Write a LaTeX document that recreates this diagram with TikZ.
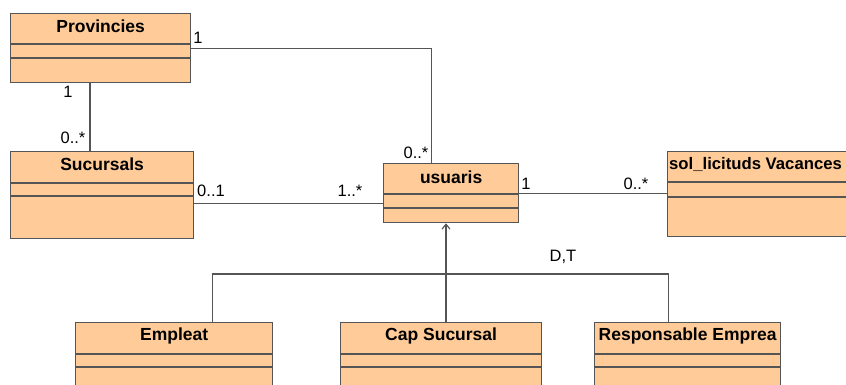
\documentclass[tikz,border=0pt]{standalone}
\usepackage{fontspec}
\setmainfont{Liberation Sans}
\usetikzlibrary{
    positioning,
    arrows.meta,
    calc
}
\definecolor{classfill}{HTML}{FFCC99}
\definecolor{linegray}{HTML}{555555}

\begin{document}
\begin{tikzpicture}[x=1pt, y=-1pt,
    cls/.style={draw=linegray, fill=classfill, line width=1.3pt, rectangle, inner sep=0pt, anchor=north west},
    clsname/.style={font=\bfseries\fontsize{17.5}{19}\selectfont, inner sep=0pt},
    assoc/.style={draw=linegray, line width=1.1pt},
    mult/.style={font=\fontsize{16.5}{18}\selectfont, inner sep=0pt}
]
    \useasboundingbox (0,0) rectangle (846,385);
    \clip (0,0) rectangle (846,385);

    % Classes
    \node[cls, minimum width=180pt, minimum height=69pt] (prov) at (10,13) {};
    \node[cls, minimum width=183pt, minimum height=87pt] (suc) at (10,151) {};
    \node[cls, minimum width=135pt, minimum height=59pt] (usu) at (383,163) {};
    \node[cls, minimum width=190pt, minimum height=85pt] (sol) at (667,151) {};
    \node[cls, minimum width=197pt, minimum height=90pt] (emp) at (75,322) {};
    \node[cls, minimum width=201pt, minimum height=90pt] (cap) at (340,322) {};
    \node[cls, minimum width=186pt, minimum height=90pt] (resp) at (594,322) {};

    % Compartments
    \draw[assoc] ([yshift=-31pt]prov.north west) -- ([yshift=-31pt]prov.north east);
    \draw[assoc] ([yshift=-45pt]prov.north west) -- ([yshift=-45pt]prov.north east);
    \draw[assoc] ([yshift=-32pt]suc.north west) -- ([yshift=-32pt]suc.north east);
    \draw[assoc] ([yshift=-45pt]suc.north west) -- ([yshift=-45pt]suc.north east);
    \draw[assoc] ([yshift=-31pt]usu.north west) -- ([yshift=-31pt]usu.north east);
    \draw[assoc] ([yshift=-45pt]usu.north west) -- ([yshift=-45pt]usu.north east);
    \draw[assoc] ([yshift=-31pt]sol.north west) -- ([yshift=-31pt]sol.north east);
    \draw[assoc] ([yshift=-46pt]sol.north west) -- ([yshift=-46pt]sol.north east);
    \foreach \c in {emp, cap, resp} {
        \draw[assoc] ([yshift=-32pt]\c.north west) -- ([yshift=-32pt]\c.north east);
        \draw[assoc] ([yshift=-45pt]\c.north west) -- ([yshift=-45pt]\c.north east);
    }

    % Class names
    \node[clsname] (provname) at ([yshift=-13pt]prov.north) {Provincies};
    \node[clsname] (sucname) at ([yshift=-13pt]suc.north) {Sucursals};
    \node[clsname] (usuname) at ([yshift=-14pt]usu.north) {usuaris};
    \node[clsname, anchor=west, font=\bfseries\fontsize{16.7}{19}\selectfont] (solname) at ([xshift=2pt, yshift=-13pt]sol.north west) {sol\_licituds Vacances};
    \node[clsname] (empname) at ([yshift=-14pt]emp.north) {Empleat};
    \node[clsname] (capname) at ([yshift=-14pt]cap.north) {Cap Sucursal};
    \node[clsname] (respname) at ([yshift=-14pt]resp.north) {Responsable Emprea};

    % Associations
    \draw[assoc] ([xshift=80pt]prov.south west) -- ([xshift=80pt]prov.south west |- suc.north);
    \draw[assoc] (prov.east) -| ([xshift=-20pt]usu.north);
    \draw[assoc] ([yshift=-10pt]usu.west) -- ([yshift=-10pt]usu.west -| suc.east);
    \draw[assoc] (usu.east) -- (usu.east -| sol.west);

    % Generalization
    \coordinate (gen) at (446,274);
    \draw[assoc, -{Straight Barb[length=5pt, width=8pt]}] (gen) -- (gen |- usu.south);
    \draw[assoc] ([xshift=38pt]emp.north) |- ([xshift=-19pt]resp.north |- gen) -- ([xshift=-19pt]resp.north);
    \draw[assoc] (gen) -- (gen |- cap.north);

    % Multiplicities
    \node[mult] (m1) at (198,38) {1};
    \node[mult] (m2) at (68,92) {1};
    \node[mult] (m3) at (73,138) {0..*};
    \node[mult] (m4) at (416,153) {0..*};
    \node[mult] (m5) at (211,191) {0..1};
    \node[mult] (m6) at (350,191) {1..*};
    \node[mult] (m7) at (526,184) {1};
    \node[mult] (m8) at (636,184) {0..*};
    \node[mult] (dt) at (563,257) {D,T};
\end{tikzpicture}
\end{document}
